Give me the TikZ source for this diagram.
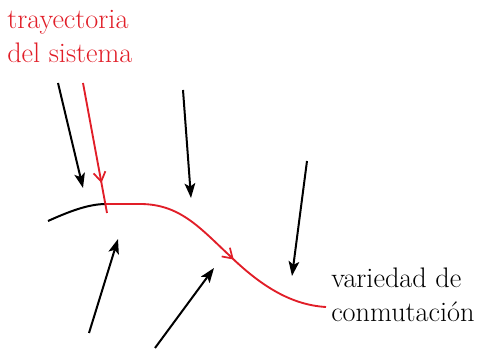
\documentclass[tikz,border=0pt]{standalone}
\usetikzlibrary{arrows.meta,decorations.markings}
\definecolor{trayred}{RGB}{225,30,40}
\begin{document}
\begin{tikzpicture}[x=0.75pt,y=-0.75pt,
  lbl/.style={anchor=base west,inner sep=0pt,font=\fontsize{21.2}{25.5}\selectfont,align=left},
  field/.style={line width=1.5pt,-{Stealth[length=11pt,width=8pt,inset=2.5pt]}},
  traj/.style={trayred,line width=1.4pt},
  midarrow/.style={postaction={decorate},decoration={markings,
     mark=at position #1 with {\arrow{Straight Barb[length=7pt,width=9pt,line width=1.3pt]}}}}
]
\useasboundingbox (0,0) rectangle (479,349);
% labels (anchor = baseline of last line)
\node[lbl,text=trayred] (tray) at (7,63) {trayectoria\\del sistema};
\node[lbl] (var) at (331,322) {variedad de\\conmutación};
% coordinates
\coordinate (a1s) at (58,83);  \coordinate (a1e) at (83,188);
\coordinate (a2s) at (183,90); \coordinate (a2e) at (191,198);
\coordinate (a3s) at (307,161); \coordinate (a3e) at (292,276);
\coordinate (a4s) at (89,333); \coordinate (a4e) at (118,239);
\coordinate (a5s) at (155,348); \coordinate (a5e) at (214,268);
\coordinate (rs) at (83,83); \coordinate (rj) at (106,204); \coordinate (re) at (107,213);
\coordinate (cs) at (48,221); \coordinate (ce) at (326,307);
% field arrows
\draw[field] (a1s) -- (a1e);
\draw[field] (a2s) -- (a2e);
\draw[field] (a3s) -- (a3e);
\draw[field] (a4s) -- (a4e);
\draw[field] (a5s) -- (a5e);
% switching manifold (black part)
\draw[line width=1.5pt] (cs) .. controls (68,212) and (88,204) .. (rj);
% trajectory
\draw[traj,midarrow=0.77] (rs) -- (re);
\draw[traj,midarrow=0.58] (rj) -- (140,204) .. controls (180,204) and (200,228) .. (230,256)
   .. controls (262,287) and (292,305) .. (ce);
\end{tikzpicture}
\end{document}
